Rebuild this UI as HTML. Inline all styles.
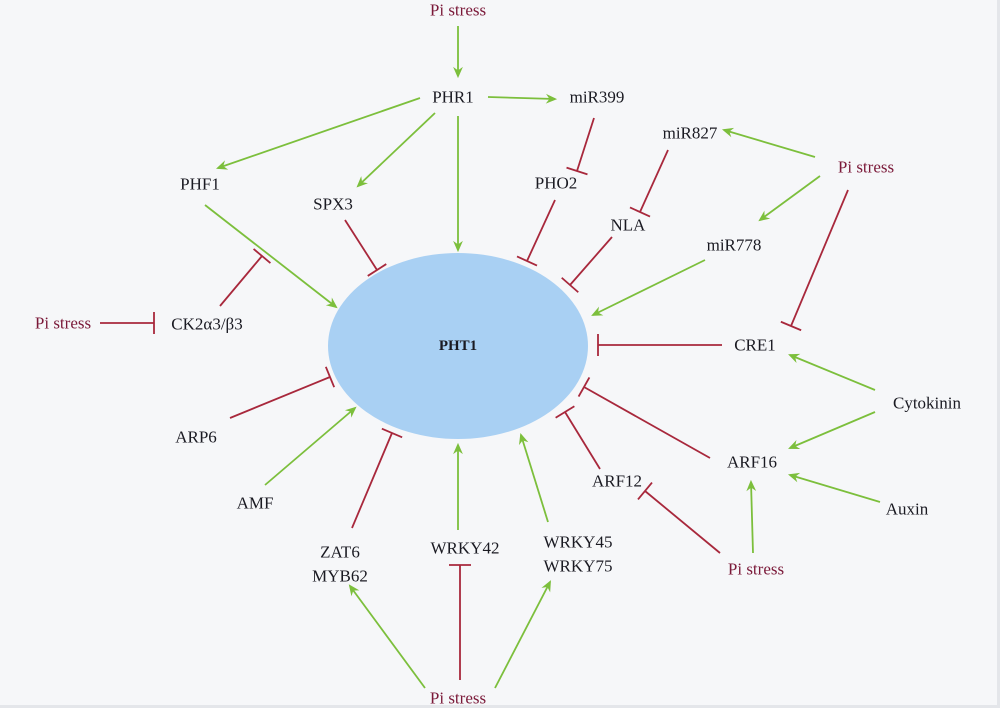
<!DOCTYPE html>
<html><head><meta charset="utf-8"><style>
html,body{margin:0;padding:0;background:#f6f7f9;}
svg{display:block;font-family:"Liberation Serif","Times New Roman","DejaVu Serif",serif}
text{font-family:"Liberation Serif","Times New Roman","DejaVu Serif",serif;font-size:17px;fill:#1a1a22;text-anchor:middle;dominant-baseline:central}
.p{fill:#7a1838}
.g{stroke:#7cbf3c;stroke-width:1.8;fill:none;marker-end:url(#a)}
.r{stroke:#a8283c;stroke-width:1.8;fill:none;marker-end:url(#t)}
</style></head><body>
<svg width="1000" height="708" viewBox="0 0 1000 708" font-family="Liberation Serif, serif">
<defs>
<marker id="a" viewBox="0 0 10 10" refX="9" refY="5" markerWidth="7" markerHeight="7" markerUnits="userSpaceOnUse" orient="auto" style="overflow:visible">
<path d="M-4,-2 L12,5 L-4,12 L1,5 Z" fill="#7cbf3c"/></marker>
<marker id="t" viewBox="0 0 10 10" refX="5" refY="5" markerWidth="10" markerHeight="22" markerUnits="userSpaceOnUse" orient="auto" style="overflow:visible">
<line x1="5" y1="-6" x2="5" y2="16" stroke="#a8283c" stroke-width="1.8"/></marker>
</defs>
<rect x="997" y="0" width="3" height="708" fill="#e4e6ea"/>
<rect x="0" y="705" width="1000" height="3" fill="#e4e6ea"/>
<ellipse cx="458" cy="346" rx="130" ry="93" fill="#a9d0f3"/>
<text x="458" y="346" style="font-weight:bold;font-size:15px">PHT1</text>

<line class="g" x1="458" y1="26" x2="458" y2="76"/>
<line class="g" x1="488" y1="97" x2="555" y2="99"/>
<line class="g" x1="420" y1="98" x2="218" y2="168"/>
<line class="g" x1="435" y1="113" x2="358" y2="186"/>
<line class="g" x1="458" y1="116" x2="458" y2="250"/>
<line class="g" x1="205" y1="205" x2="336" y2="307"/>
<line class="g" x1="815" y1="157" x2="724" y2="130"/>
<line class="g" x1="820" y1="176" x2="760" y2="220"/>
<line class="g" x1="705" y1="260" x2="593" y2="315"/>
<line class="g" x1="875" y1="390" x2="790" y2="355"/>
<line class="g" x1="875" y1="412" x2="790" y2="448"/>
<line class="g" x1="880" y1="502" x2="790" y2="475"/>
<line class="g" x1="753" y1="553" x2="751" y2="482"/>
<line class="g" x1="265" y1="485" x2="355" y2="408"/>
<line class="g" x1="458" y1="530" x2="458" y2="445"/>
<line class="g" x1="548" y1="522" x2="521" y2="435"/>
<line class="g" x1="425" y1="688" x2="350" y2="586"/>
<line class="g" x1="495" y1="688" x2="550" y2="582"/>

<line class="r" x1="594" y1="118" x2="577" y2="171"/>
<line class="r" x1="668" y1="150" x2="640" y2="212"/>
<line class="r" x1="555" y1="200" x2="527" y2="261"/>
<line class="r" x1="612" y1="237" x2="570" y2="285"/>
<line class="r" x1="345" y1="220" x2="377" y2="270"/>
<line class="r" x1="220" y1="306" x2="262" y2="256"/>
<line class="r" x1="100" y1="323" x2="154" y2="323"/>
<line class="r" x1="848" y1="190" x2="791" y2="326"/>
<line class="r" x1="722" y1="345" x2="598" y2="345"/>
<line class="r" x1="230" y1="418" x2="330" y2="377"/>
<line class="r" x1="352" y1="528" x2="392" y2="433"/>
<line class="r" x1="460" y1="680" x2="460" y2="565"/>
<line class="r" x1="600" y1="469" x2="565" y2="412"/>
<line class="r" x1="710" y1="458" x2="584" y2="387"/>
<line class="r" x1="720" y1="553" x2="645" y2="491"/>

<text class="p" x="458" y="10">Pi stress</text>
<text x="453" y="97">PHR1</text>
<text x="597" y="97">miR399</text>
<text x="690" y="133">miR827</text>
<text class="p" x="866" y="167">Pi stress</text>
<text x="200" y="184">PHF1</text>
<text x="333" y="204">SPX3</text>
<text x="556" y="183">PHO2</text>
<text x="628" y="225">NLA</text>
<text x="734" y="245">miR778</text>
<text class="p" x="63" y="323">Pi stress</text>
<text x="207" y="324">CK2α3/β3</text>
<text x="755" y="345">CRE1</text>
<text x="927" y="403">Cytokinin</text>
<text x="196" y="437">ARP6</text>
<text x="752" y="462">ARF16</text>
<text x="617" y="481">ARF12</text>
<text x="255" y="503">AMF</text>
<text x="907" y="509">Auxin</text>
<text x="340" y="552">ZAT6</text>
<text x="340" y="576">MYB62</text>
<text x="465" y="548">WRKY42</text>
<text x="578" y="542">WRKY45</text>
<text x="578" y="566">WRKY75</text>
<text class="p" x="756" y="569">Pi stress</text>
<text class="p" x="458" y="698">Pi stress</text>
</svg>
</body></html>
